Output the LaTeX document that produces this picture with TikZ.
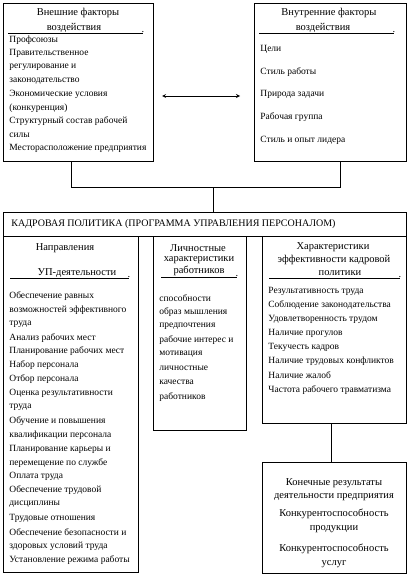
\documentclass[tikz,border=0pt]{standalone}
\usepackage{fontspec}
\setmainfont{Liberation Serif}
\usetikzlibrary{arrows, positioning, calc}

\begin{document}
\begin{tikzpicture}[x=1pt, y=-1pt, line width=0.8pt,
  box/.style={draw, anchor=north west, inner sep=0pt},
  item/.style={anchor=west, inner sep=0pt, font=\fontsize{9.5}{11}\selectfont},
  ttl/.style={inner sep=0pt, font=\fontsize{10.5}{12}\selectfont},
  uline/.style={line width=0.8pt}]
\useasboundingbox (0,0) rectangle (411,580);

% Factors of influence
\node[box, minimum width=150pt, minimum height=158pt] (ext) at (3,3) {};
\node[box, minimum width=152pt, minimum height=158pt] (int) at (254,3) {};

\node[ttl] (ext-t1) at (78,13) {Внешние факторы};
\node[ttl] (ext-t2) at (74,28) {воздействия};
\draw[uline] (8,33) -- (143,33);
\node[ttl, anchor=south] (ext-dot) at (143,33) {.};
\foreach \txt [count=\i] in {Профсоюзы, Правительственное, регулирование и,
    законодательство, Экономические условия, (конкуренция),
    Структурный состав рабочей, силы, Месторасположение предприятия} {
  \node[item] (ext-\i) at (9,{40+13.6*(\i-1)}) {\txt};
}

\node[ttl] (int-t1) at (329,13) {Внутренние факторы};
\node[ttl] (int-t2) at (323,28) {воздействия};
\draw[uline] (259,33) -- (394,33);
\node[ttl, anchor=south] (int-dot) at (394,33) {.};
\foreach \txt [count=\i] in {Цели, Стиль работы, Природа задачи,
    Рабочая группа, Стиль и опыт лидера} {
  \node[item] (int-\i) at (260,{49+22.8*(\i-1)}) {\txt};
}

\coordinate (al) at (162,96);
\coordinate (ar) at (240,96);
\draw[<->, >=stealth] (al) -- (ar);

% Personnel policy
\node[box, minimum width=403pt, minimum height=24pt] (kp) at (3,212) {};
\node[anchor=west, inner sep=0pt, font=\fontsize{10}{12}\selectfont] (kp-t) at (11,224)
  {КАДРОВАЯ ПОЛИТИКА (ПРОГРАММА УПРАВЛЕНИЯ ПЕРСОНАЛОМ)};

\coordinate (j) at (213,187);
\draw ([xshift=-7pt]ext.south) -- ++(0,26) -| ([xshift=10pt]int.south);
\draw (j) -- (j |- kp.north);

% Directions
\node[box, minimum width=135pt, minimum height=336pt] (napr) at (3,236) {};
\node[ttl] (napr-t1) at (65,248) {Направления};
\node[ttl] (napr-t2) at (77,273) {УП-деятельности};
\draw[uline] (10,278) -- (129,278);
\node[ttl, anchor=south] (napr-dot) at (129,278) {.};
\foreach \txt [count=\i] in {Обеспечение равных, возможностей эффективного, труда,
    Анализ рабочих мест, Планирование рабочих мест, Набор персонала,
    Отбор персонала, Оценка результативности, труда,
    Обучение и повышения, квалификации персонала, Планирование карьеры и,
    перемещение по службе, Оплата труда, Обеспечение трудовой, дисциплины,
    Трудовые отношения, Обеспечение безопасности и, здоровых условий труда,
    Установление режима работы} {
  \node[item] (napr-\i) at (9,{296+13.9*(\i-1)}) {\txt};
}

% Personal characteristics
\node[box, minimum width=93pt, minimum height=194pt] (lich) at (153,236) {};
\node[ttl] (lich-t1) at (198,248) {Личностные};
\node[ttl] (lich-t2) at (199,260) {характеристики};
\node[ttl] (lich-t3) at (199,271) {работников};
\draw[uline] (161,277) -- (237,277);
\node[ttl, anchor=south] (lich-dot) at (237,277) {.};
\foreach \txt [count=\i] in {способности, образ мышления, предпочтения,
    рабочие интерес и, мотивация, личностные, качества, работников} {
  \node[item] (lich-\i) at (159,{298+14.1*(\i-1)}) {\txt};
}

% Efficiency characteristics
\node[box, minimum width=144pt, minimum height=187pt] (char) at (262,236) {};
\node[ttl] (char-t1) at (333,247) {Характеристики};
\node[ttl] (char-t2) at (334,260) {эффективности кадровой};
\node[ttl] (char-t3) at (340,273) {политики};
\draw[uline] (269,278) -- (400,278);
\node[ttl, anchor=south] (char-dot) at (400,278) {.};
\foreach \txt [count=\i] in {Результативность труда, Соблюдение законодательства,
    Удовлетворенность трудом, Наличие прогулов, Текучесть кадров,
    Наличие трудовых конфликтов, Наличие жалоб, Частота рабочего травматизма} {
  \node[item] (char-\i) at (268,{291+14.1*(\i-1)}) {\txt};
}

% Final results
\node[box, minimum width=144pt, minimum height=111pt] (rez) at (262,462) {};
\draw ([xshift=-3pt]char.south) -- ([xshift=-3pt]rez.north);
\foreach \y/\txt [count=\i] in {483/Конечные результаты, 497/деятельности предприятия,
    514/Конкурентоспособность, 529/продукции, 549/Конкурентоспособность, 564/услуг} {
  \node[ttl] (rez-\i) at (334,\y) {\txt};
}
\end{tikzpicture}
\end{document}
